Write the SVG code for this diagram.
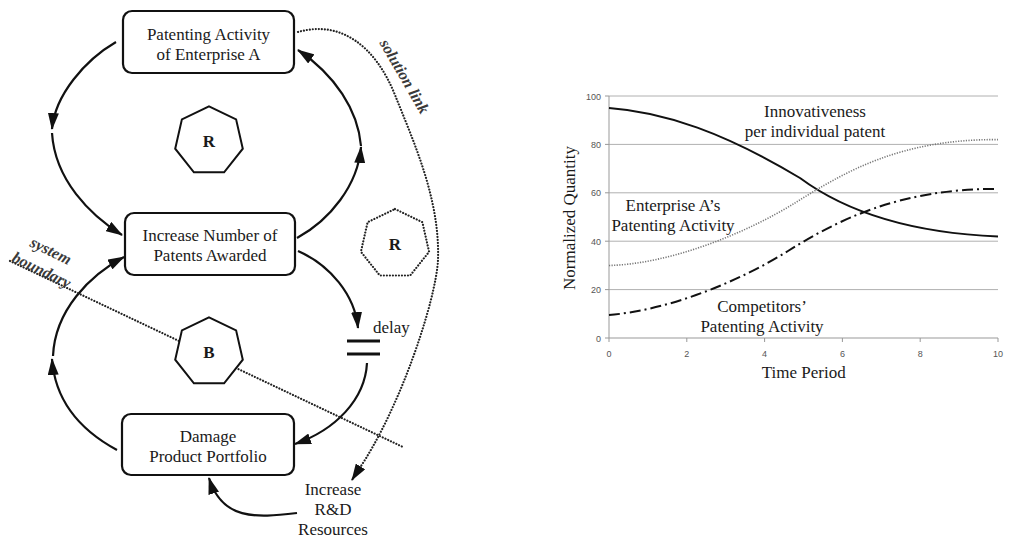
<svg xmlns="http://www.w3.org/2000/svg" width="1010" height="538" viewBox="0 0 1010 538">
<style>
.box{fill:#fff;stroke:#111;stroke-width:2.2}
.t{font-family:"Liberation Serif","Times New Roman",serif;font-size:17px;fill:#1a1a1a;text-anchor:middle}
.lbl{font-family:"Liberation Serif","Times New Roman",serif;font-size:17px;fill:#1a1a1a}
.bi{font-family:"Liberation Serif","Times New Roman",serif;font-size:16px;font-weight:bold;font-style:italic;fill:#3a3a3a}
.hep{fill:#fff;stroke:#111;stroke-width:2}
.hepd{fill:none;stroke:#222;stroke-width:2.2;stroke-dasharray:0.01 3;stroke-linecap:round}
.rb{font-family:"Liberation Serif","Times New Roman",serif;font-size:17px;font-weight:bold;fill:#1a1a1a;text-anchor:middle}
.c{fill:none;stroke:#111;stroke-width:2.2}
.dot{fill:none;stroke:#222;stroke-width:2.2;stroke-dasharray:0.01 3;stroke-linecap:round}
.grid{stroke:#b0b0b0;stroke-width:1}
.ax{stroke:#999;stroke-width:1}
.tick{font-family:"Liberation Sans",Arial,sans-serif;font-size:9px;fill:#555}
</style>
<defs>
<marker id="ah" markerUnits="userSpaceOnUse" markerWidth="17" markerHeight="11" viewBox="0 0 17 11" refX="16" refY="5.5" orient="auto">
<path d="M0,0 L17,5.5 L0,11 z" fill="#111"/>
</marker>
</defs>

<g id="connectors">
<path class="c" d="M116,42 C85,60 55,95 52,129" marker-end="url(#ah)"/>
<path class="c" d="M52,133 C55,180 90,215 122,235" marker-end="url(#ah)"/>
<path class="c" d="M297,238 C330,220 358,185 361,147" marker-end="url(#ah)"/>
<path class="c" d="M361,146 C358,110 335,75 298,50" marker-end="url(#ah)"/>
<path class="c" d="M298,251 C330,265 355,295 358,328" marker-end="url(#ah)"/>
<path class="c" d="M367,363 C365,400 335,430 295,444" marker-end="url(#ah)"/>
<path class="c" d="M117,450 C80,430 55,400 52,359" marker-end="url(#ah)"/>
<path class="c" d="M53,356 C55,310 90,275 124,257" marker-end="url(#ah)"/>
<path class="c" d="M297,513 C255,518 222,520 209,478" marker-end="url(#ah)"/>
<path class="dot" d="M298,32 C340,20 375,45 395,95 C415,145 440,200 438,260 C436,300 400,410 357,472"/>
<path d="M357,472 L352,480" stroke="#111" stroke-width="2" marker-end="url(#ah)"/>
<line x1="347" y1="341" x2="380" y2="341" stroke="#111" stroke-width="3"/>
<line x1="347" y1="354" x2="380" y2="354" stroke="#111" stroke-width="3"/>
<line class="dot" x1="10" y1="261" x2="403" y2="447"/>
</g>

<g id="node-patenting">
<rect class="box" x="123" y="11" width="171" height="62" rx="9"/>
<text class="t" x="208.5" y="40">Patenting Activity</text>
<text class="t" x="208.5" y="60">of Enterprise A</text>
</g>
<g id="node-increase">
<rect class="box" x="125" y="213" width="170" height="62" rx="9"/>
<text class="t" x="210" y="241">Increase Number of</text>
<text class="t" x="210" y="261">Patents Awarded</text>
</g>
<g id="node-damage">
<rect class="box" x="122" y="414" width="172" height="61" rx="9"/>
<text class="t" x="208" y="442">Damage</text>
<text class="t" x="208" y="462">Product Portfolio</text>
</g>
<g id="node-rd">
<text class="t" x="333" y="495">Increase</text>
<text class="t" x="333" y="515">R&amp;D</text>
<text class="t" x="333" y="535">Resources</text>
</g>
<g id="loop-r1">
<polygon class="hep" points="209,106.3 236.1,119.4 242.8,148.7 224.1,172.3 193.9,172.3 175.2,148.7 181.9,119.4"/>
<text class="rb" x="209" y="147">R</text>
</g>
<g id="loop-b">
<polygon class="hep" points="209,317.3 236.1,330.4 242.8,359.7 224.1,383.3 193.9,383.3 175.2,359.7 181.9,330.4"/>
<text class="rb" x="209" y="358">B</text>
</g>
<g id="loop-r2">
<polygon class="hepd" points="395,209 422.4,222.2 429.1,251.8 410.2,275.5 379.8,275.5 360.9,251.8 367.6,222.2"/>
<text class="rb" x="395" y="250">R</text>
</g>
<text class="lbl" x="373" y="333">delay</text>
<text class="bi" x="400" y="79" text-anchor="middle" transform="rotate(60 400 79)">solution link</text>
<text class="bi" x="29" y="246" transform="rotate(26 29 246)">system</text>
<text class="bi" x="11" y="261" transform="rotate(26 11 261)">boundary</text>

<g id="chart">
<line class="grid" x1="609" y1="96" x2="998" y2="96"/>
<line class="grid" x1="609" y1="144.4" x2="998" y2="144.4"/>
<line class="grid" x1="609" y1="192.8" x2="998" y2="192.8"/>
<line class="grid" x1="609" y1="241.2" x2="998" y2="241.2"/>
<line class="grid" x1="609" y1="289.6" x2="998" y2="289.6"/>
<line class="ax" x1="609" y1="96" x2="609" y2="338"/>
<line class="ax" x1="605" y1="338" x2="998" y2="338"/>
<g class="ax">
<line x1="605" y1="96" x2="609" y2="96"/><line x1="605" y1="144.4" x2="609" y2="144.4"/><line x1="605" y1="192.8" x2="609" y2="192.8"/><line x1="605" y1="241.2" x2="609" y2="241.2"/><line x1="605" y1="289.6" x2="609" y2="289.6"/>
<line x1="609" y1="338" x2="609" y2="342"/><line x1="686.8" y1="338" x2="686.8" y2="342"/><line x1="764.6" y1="338" x2="764.6" y2="342"/><line x1="842.4" y1="338" x2="842.4" y2="342"/><line x1="920.2" y1="338" x2="920.2" y2="342"/><line x1="998" y1="338" x2="998" y2="342"/>
</g>
<g class="tick" text-anchor="end">
<text x="601" y="99.5">100</text><text x="601" y="147.5">80</text><text x="601" y="196">60</text><text x="601" y="244.5">40</text><text x="601" y="293">20</text><text x="601" y="341.5">0</text>
</g>
<g class="tick" text-anchor="middle">
<text x="609" y="356.5">0</text><text x="686.8" y="356.5">2</text><text x="764.6" y="356.5">4</text><text x="842.4" y="356.5">6</text><text x="920.2" y="356.5">8</text><text x="998" y="356.5">10</text>
</g>
<text class="t" x="803.7" y="377.5">Time Period</text>
<text class="t" x="575" y="218" font-size="16.5" transform="rotate(-90 575 218)">Normalized Quantity</text>
<path d="M609,108 C665,112 725,133 800,178 C850,215 915,233 998,236.5" fill="none" stroke="#111" stroke-width="2"/>
<path d="M609,265.5 C670,264 745.7,233.5 795.7,202.5 C845.7,171.5 900,139 998,139.6" fill="none" stroke="#777" stroke-width="1.6" stroke-dasharray="1.2 1.4"/>
<path d="M609,315 C670,310 740,281 788,251 C836,221 900,188 998,189" fill="none" stroke="#111" stroke-width="2" stroke-dasharray="11 4 2 4"/>
<text class="t" x="815" y="117">Innovativeness</text>
<text class="t" x="815" y="137">per individual patent</text>
<text class="t" x="673" y="211">Enterprise A’s</text>
<text class="t" x="673" y="231">Patenting Activity</text>
<text class="t" x="762" y="312">Competitors’</text>
<text class="t" x="762" y="332">Patenting Activity</text>
</g>
</svg>
